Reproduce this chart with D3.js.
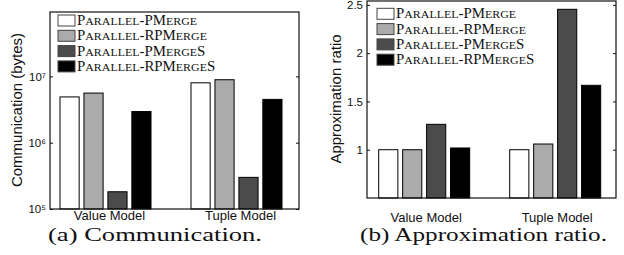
<!DOCTYPE html>
<html>
<head>
<meta charset="utf-8">
<script src="https://cdn.jsdelivr.net/npm/d3@7"></script>
<style>
  body { margin: 0; background: #fff; }
  svg { display: block; }
  .sc { text-transform: uppercase; }
</style>
</head>
<body>
<div id="chart"></div>
<script>
// data
const groups = ["Value Model", "Tuple Model"];
const series = ["Parallel-PMerge", "Parallel-RPMerge", "Parallel-PMergeS", "Parallel-RPMergeS"];
const commValues = [
  [4.9e6, 5.6e6, 1.82e5, 2.95e6],   // Value Model
  [8.0e6, 8.9e6, 3.0e5, 4.5e6]      // Tuple Model
];
const ratioValues = [
  [1.0, 1.0, 1.263, 1.018],
  [1.0, 1.059, 2.454, 1.667]
];
const commTicks = [1e5, 1e6, 1e7];
const ratioTicks = [1, 1.5, 2, 2.5];
const fills = ["#ffffff", "#ababab", "#4b4b4b", "#000000"];

const W = 624, H = 255;
const SANS = "'Liberation Sans', Arial, sans-serif";
const SERIF = "'Liberation Serif', 'Times New Roman', serif";

const svg = d3.select('#chart').append('svg')
  .attr('width', W).attr('height', H)
  .attr('viewBox', `0 0 ${W} ${H}`);

// petites capitales faites à la main (lettres minuscules réduites)
function smallCaps(t, txt, size) {
  const runs = txt.match(/[a-z]+|[^a-z]+/g);
  runs.forEach(r => {
    const sp = t.append('tspan').text(r);
    if (/[a-z]/.test(r)) sp.attr('class', 'sc').attr('font-size', size * 0.8);
  });
}

// un panneau de barres
function panel(opt) {
  const g = svg.append('g');
  const { x0, x1, y, L, R, T, B } = opt;

  // barres
  opt.values.forEach((row, gi) => {
    row.forEach((v, si) => {
      g.append('rect')
        .attr('x', x0(groups[gi]) + x1(series[si]))
        .attr('y', y(v))
        .attr('width', x1.bandwidth())
        .attr('height', y(opt.base) - y(v))
        .attr('fill', fills[si])
        .attr('stroke', '#000')
        .attr('stroke-width', 1);
    });
  });

  // cadre
  g.append('rect')
    .attr('x', L).attr('y', T)
    .attr('width', R - L).attr('height', B - T)
    .attr('fill', 'none').attr('stroke', '#111').attr('stroke-width', 1.2);

  // graduations gauche (vers l'intérieur)
  const ay = g.append('g').attr('transform', `translate(${L},0)`)
    .call(d3.axisLeft(y).tickValues(opt.ticks).tickSize(-3).tickPadding(4)
      .tickFormat(opt.fmt || (d => d)));
  ay.select('.domain').remove();
  ay.selectAll('line').attr('stroke', '#111');
  ay.selectAll('text').attr('font-family', SANS).attr('font-size', 11.5).attr('fill', '#111');

  // graduations droite, sans étiquette
  const ar = g.append('g').attr('transform', `translate(${R},0)`)
    .call(d3.axisRight(y).tickValues(opt.ticks).tickSize(-3).tickFormat(''));
  ar.select('.domain').remove();
  ar.selectAll('line').attr('stroke', '#111');

  // noms de groupes
  groups.forEach(name => {
    g.append('text')
      .attr('x', x0(name) + opt.labelShift).attr('y', opt.labelY)
      .attr('text-anchor', 'middle')
      .attr('font-family', SANS).attr('font-size', 13).attr('fill', '#111')
      .text(name);
  });

  // titre de l'axe y
  g.append('text')
    .attr('transform', `translate(${opt.titleX},${opt.titleY}) rotate(-90)`)
    .attr('text-anchor', 'middle')
    .attr('font-family', SANS).attr('font-size', 15).attr('fill', '#111')
    .text(opt.title);

  // légende
  let k = null;
  series.forEach((s, i) => {
    const ly = opt.legY + i * 15.3;
    g.append('rect')
      .attr('x', opt.legX).attr('y', ly)
      .attr('width', 17).attr('height', 11)
      .attr('fill', fills[i]).attr('stroke', '#444').attr('stroke-width', 1);
    const t = g.append('text')
      .attr('x', opt.legX + 19).attr('y', ly + 10)
      .attr('font-family', SERIF).attr('font-size', 14).attr('fill', '#111');
    smallCaps(t, s, 14);
    const w = t.node().getComputedTextLength();
    if (k === null) k = 120 / w;
    t.attr('textLength', w * k).attr('lengthAdjust', 'spacingAndGlyphs');
  });

  // légende de sous-figure
  g.append('text')
    .attr('x', opt.capX).attr('y', 241)
    .attr('text-anchor', 'middle')
    .attr('font-family', SERIF).attr('font-size', 19.5).attr('fill', '#111')
    .attr('textLength', opt.capW).attr('lengthAdjust', 'spacingAndGlyphs')
    .text(opt.caption);
}

const x1 = d3.scaleBand().domain(series).range([-45.5, 45.5]).paddingInner(0.2);

// (a) communication, échelle log
const yComm = d3.scaleLog().domain([1e5, 9.35e7]).range([209, 12]);
const supDigits = { '5': '⁵', '6': '⁶', '7': '⁷' };
panel({
  x0: d3.scalePoint().domain(groups).range([105.5, 236.5]),
  x1, y: yComm, base: 1e5,
  L: 50, R: 299, T: 12, B: 209,
  values: commValues, ticks: commTicks,
  fmt: d => '10' + supDigits[String(Math.round(Math.log10(d)))],
  labelShift: 4, labelY: 220,
  title: 'Communication (bytes)', titleX: 22, titleY: 110,
  legX: 58, legY: 15,
  caption: '(a) Communication.', capX: 155, capW: 214
});

// (b) ratio d'approximation
const yRatio = d3.scaleLinear().domain([0.5, 2.54]).range([198, 1]);
panel({
  x0: d3.scalePoint().domain(groups).range([424.2, 555.2]),
  x1, y: yRatio, base: 0.5,
  L: 367, R: 616, T: 1, B: 198,
  values: ratioValues, ticks: ratioTicks,
  fmt: d => String(d),
  labelShift: 2, labelY: 222,
  title: 'Approximation ratio', titleX: 341, titleY: 99,
  legX: 377, legY: 8.3,
  caption: '(b) Approximation ratio.', capX: 483.5, capW: 247
});
</script>
</body>
</html>
